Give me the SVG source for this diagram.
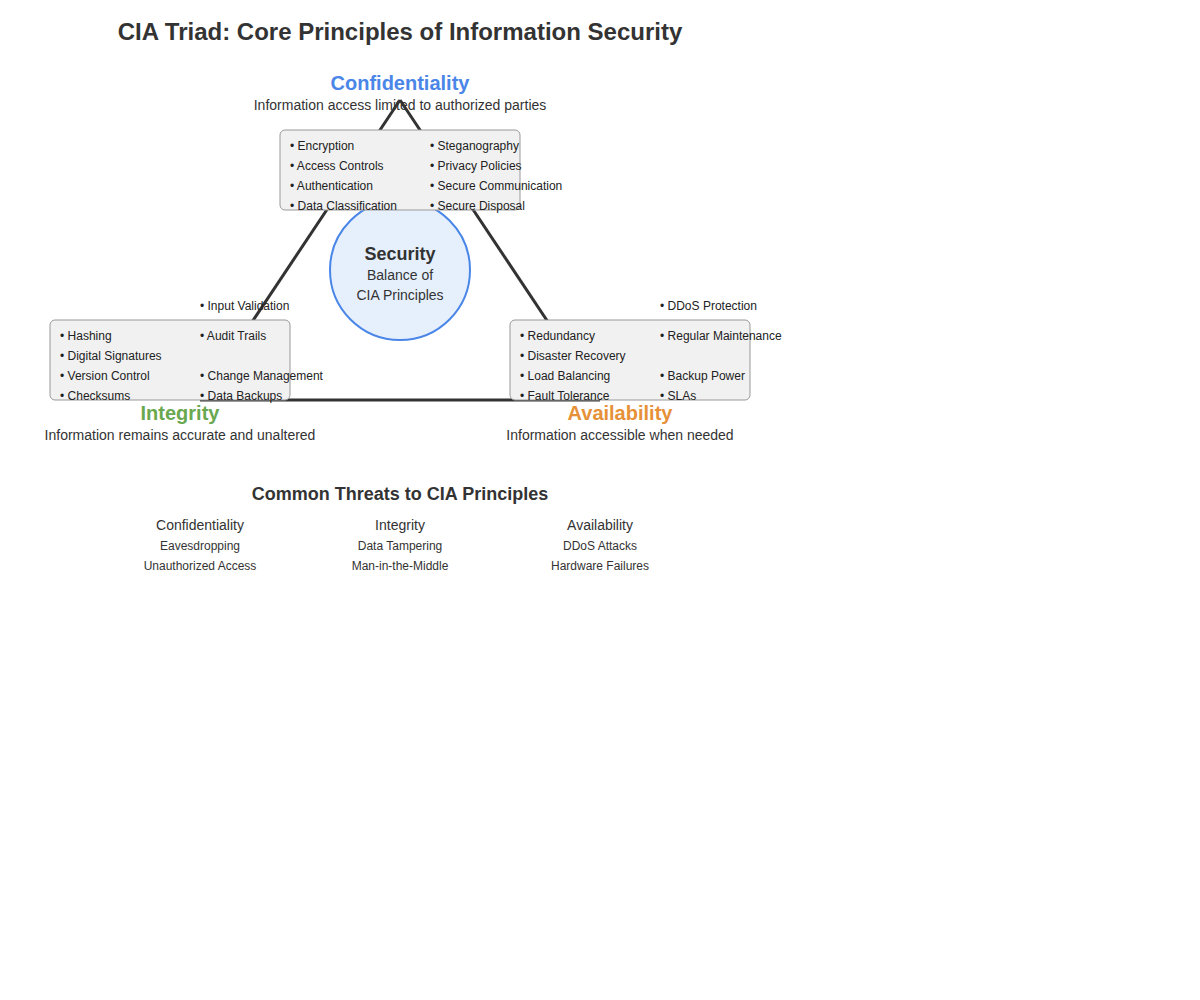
<svg xmlns="http://www.w3.org/2000/svg" width="1200" height="1000" viewBox="0 0 1200 1000">
  <style>
    text { font-family: "Liberation Sans", Arial, Helvetica, sans-serif; fill: #333; }
    .title { font-size: 24px; font-weight: bold; text-anchor: middle; }
    .head { font-size: 20px; font-weight: bold; text-anchor: middle; }
    .desc { font-size: 14px; text-anchor: middle; }
    .item { font-size: 12px; fill: #222; }
    .box { fill: #f1f1f1; stroke: #999; stroke-width: 1; }
    .edge { stroke: #333; stroke-width: 3; fill: none; }
    .sub { font-size: 18px; font-weight: bold; text-anchor: middle; }
    .col { font-size: 14px; text-anchor: middle; }
    .threat { font-size: 12px; text-anchor: middle; }
  </style>
  <rect width="1200" height="1000" fill="#ffffff"/>

  <text class="title" x="400" y="40">CIA Triad: Core Principles of Information Security</text>

  <!-- principle labels -->
  <text class="head" x="400" y="90" style="fill:#4a86e8">Confidentiality</text>
  <text class="desc" x="400" y="110">Information access limited to authorized parties</text>
  <text class="head" x="180" y="420" style="fill:#6aa84f">Integrity</text>
  <text class="desc" x="180" y="440">Information remains accurate and unaltered</text>
  <text class="head" x="620" y="420" style="fill:#e69138">Availability</text>
  <text class="desc" x="620" y="440">Information accessible when needed</text>

  <!-- triangle edges -->
  <g id="connectors">
    <line class="edge" x1="400" y1="100" x2="200" y2="400"/>
    <line class="edge" x1="400" y1="100" x2="600" y2="400"/>
    <line class="edge" x1="200" y1="400" x2="600" y2="400"/>
  </g>

  <!-- center -->
  <g id="security">
    <circle cx="400" cy="270" r="70" fill="#e6f0fd" stroke="#4a86e8" stroke-width="2"/>
    <text class="sub" x="400" y="260">Security</text>
    <text class="desc" x="400" y="280">Balance of</text>
    <text class="desc" x="400" y="300">CIA Principles</text>
  </g>

  <g id="confidentiality">
    <rect class="box" x="280" y="130" width="240" height="80" rx="5"/>
    <text class="item" x="290" y="150">• Encryption</text>
    <text class="item" x="290" y="170">• Access Controls</text>
    <text class="item" x="290" y="190">• Authentication</text>
    <text class="item" x="290" y="210">• Data Classification</text>
    <text class="item" x="430" y="150">• Steganography</text>
    <text class="item" x="430" y="170">• Privacy Policies</text>
    <text class="item" x="430" y="190">• Secure Communication</text>
    <text class="item" x="430" y="210">• Secure Disposal</text>
  </g>

  <g id="integrity">
    <rect class="box" x="50" y="320" width="240" height="80" rx="5"/>
    <text class="item" x="60" y="340">• Hashing</text>
    <text class="item" x="60" y="360">• Digital Signatures</text>
    <text class="item" x="60" y="380">• Version Control</text>
    <text class="item" x="60" y="400">• Checksums</text>
    <text class="item" x="200" y="310">• Input Validation</text>
    <text class="item" x="200" y="340">• Audit Trails</text>
    <text class="item" x="200" y="380">• Change Management</text>
    <text class="item" x="200" y="400">• Data Backups</text>
  </g>

  <g id="availability">
    <rect class="box" x="510" y="320" width="240" height="80" rx="5"/>
    <text class="item" x="520" y="340">• Redundancy</text>
    <text class="item" x="520" y="360">• Disaster Recovery</text>
    <text class="item" x="520" y="380">• Load Balancing</text>
    <text class="item" x="520" y="400">• Fault Tolerance</text>
    <text class="item" x="660" y="310">• DDoS Protection</text>
    <text class="item" x="660" y="340">• Regular Maintenance</text>
    <text class="item" x="660" y="380">• Backup Power</text>
    <text class="item" x="660" y="400">• SLAs</text>
  </g>

  <!-- threats table -->
  <g id="threats">
    <text class="sub" x="400" y="500">Common Threats to CIA Principles</text>
    <text class="col" x="200" y="530">Confidentiality</text>
    <text class="threat" x="200" y="550">Eavesdropping</text>
    <text class="threat" x="200" y="570">Unauthorized Access</text>
    <text class="col" x="400" y="530">Integrity</text>
    <text class="threat" x="400" y="550">Data Tampering</text>
    <text class="threat" x="400" y="570">Man-in-the-Middle</text>
    <text class="col" x="600" y="530">Availability</text>
    <text class="threat" x="600" y="550">DDoS Attacks</text>
    <text class="threat" x="600" y="570">Hardware Failures</text>
  </g>
</svg>
